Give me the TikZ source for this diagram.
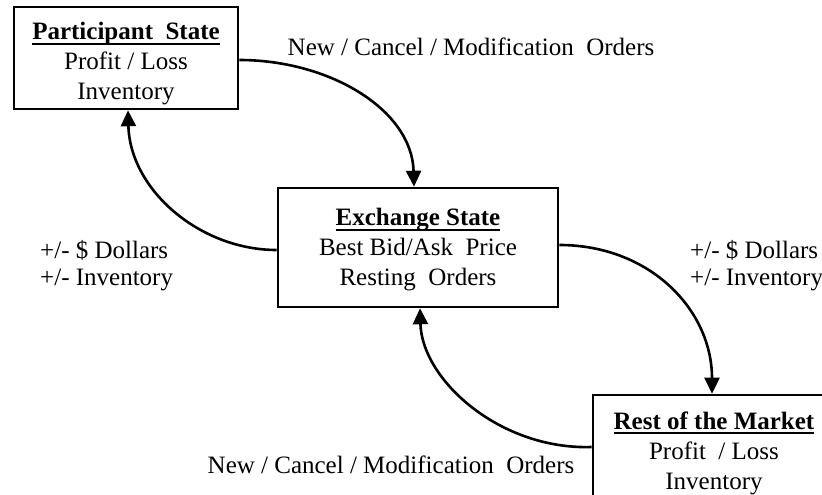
\documentclass[tikz,border=0pt]{standalone}
\usepackage{fontspec}
\setmainfont{Liberation Serif}
\usetikzlibrary{arrows.meta}
\newcommand\thickul[1]{\setbox0\hbox{#1}\rlap{\raisebox{-5pt}{\rule{\wd0}{1.8pt}}}\box0}
\begin{document}
\begin{tikzpicture}[x=1pt,y=-1pt,
  statebox/.style={draw,line width=2.6pt,inner sep=0pt,align=center},
  flow/.style={line width=2.6pt,-{Triangle[length=16pt,width=15pt]}},
  lbl/.style={inner sep=0pt,font=\fontsize{25}{30}\selectfont},
  boxtext/.style={inner sep=0pt,align=center,font=\fontsize{25}{30}\selectfont}]
\clip (0,0) rectangle (822,495);
\fill[white] (0,0) rectangle (822,495);
% boxes
\node[statebox,minimum width=224pt,minimum height=102pt] (ps) at (126,58) {};
\node[boxtext] (pst) at (126,64) {\textbf{\thickul{Participant\ \ State}}\\Profit / Loss\\Inventory};
\node[statebox,minimum width=280pt,minimum height=119pt] (ex) at (418,247.5) {};
\node[boxtext] (ext) at (418,250) {\textbf{\thickul{Exchange State}}\\Best Bid/Ask\ \ Price\\Resting\ \ Orders};
\node[statebox,minimum width=238pt,minimum height=102pt] (rm) at (712,446) {};
\node[boxtext] (rmt) at (714,453) {\textbf{\thickul{Rest of the Market}}\\Profit\ \ / Loss\\Inventory};
% connectors
\draw[flow] (ps.east |- 0,60) .. controls (330,60) and (412,110) .. (ex.north -| 414,0);
\draw[flow] (ex.west |- 0,250) .. controls (200,250) and (130,190) .. (ps.south -| 128,0);
\draw[flow] (ex.east |- 0,245) .. controls (650,245) and (712,310) .. (rm.north -| 712,0);
\draw[flow] (rm.west |- 0,447) .. controls (500,450) and (422,380) .. (ex.south -| 420,0);
% labels
\node[lbl] (l1) at (471,47) {New / Cancel / Modification\ \ Orders};
\node[lbl,anchor=west] (l2) at (40,250) {+/- \$ Dollars};
\node[lbl,anchor=west] (l3) at (40,280) {+/- Inventory};
\node[lbl,anchor=west] (l4) at (690,250) {+/- \$ Dollars};
\node[lbl,anchor=west] (l5) at (690,280) {+/- Inventory};
\node[lbl] (l6) at (391,465) {New / Cancel / Modification\ \ Orders};
\end{tikzpicture}
\end{document}
